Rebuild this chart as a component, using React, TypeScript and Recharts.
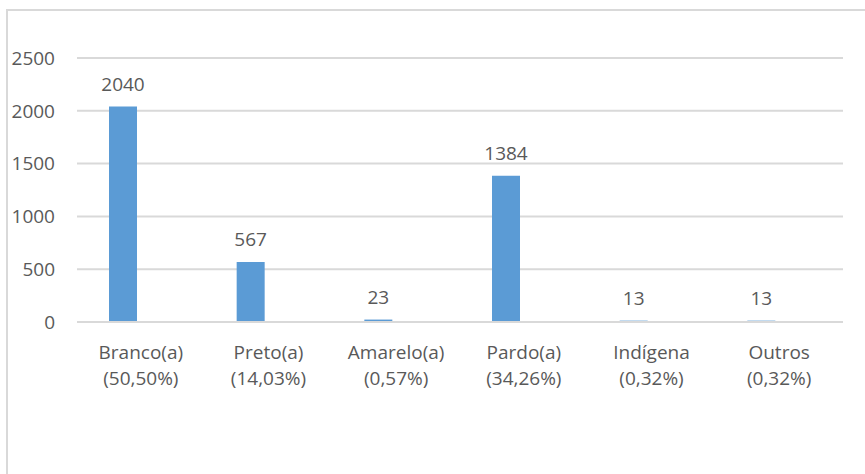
import React from 'react';
import { BarChart, Bar, XAxis, YAxis, CartesianGrid, LabelList } from 'recharts';

const categories = ['Branco(a)', 'Preto(a)', 'Amarelo(a)', 'Pardo(a)', 'Indígena', 'Outros'];
const percentLabels = ['(50,50%)', '(14,03%)', '(0,57%)', '(34,26%)', '(0,32%)', '(0,32%)'];
const counts = [2040, 567, 23, 1384, 13, 13];
const yTicks = [0, 500, 1000, 1500, 2000, 2500];

const data = categories.map((name, i) => ({ name, pct: percentLabels[i], value: counts[i] }));

const FONT = '"Open Sans", "Noto Sans", sans-serif';
const TEXT = '#595959';
const GRID = '#d9d9d9';
const FS = 19;

const CategoryTick = (props: any) => {
  const { x, y, payload, index } = props;
  return (
    <text x={x} y={y} textAnchor="middle" fill={TEXT} fontFamily={FONT} fontSize={FS}>
      <tspan x={x} dy={35}>{payload.value}</tspan>
      <tspan x={x} dy={26}>{percentLabels[index]}</tspan>
    </text>
  );
};

export default function App() {
  return (
    <div style={{ position: 'absolute', left: 0, top: 0, width: 865, height: 474, background: '#fff', overflow: 'hidden' }}>
      <div
        style={{
          position: 'absolute',
          left: 6,
          top: 9,
          width: 900,
          height: 500,
          borderLeft: `2px solid ${GRID}`,
          borderTop: `2px solid ${GRID}`,
        }}
      />
      <div style={{ position: 'absolute', left: 0, top: 0 }}>
        <BarChart
          width={865}
          height={474}
          data={data}
          margin={{ top: 58, right: 22, bottom: 0, left: 0 }}
          barGap={8}
        >
          <CartesianGrid vertical={false} stroke={GRID} strokeWidth={2} />
          <XAxis
            dataKey="name"
            height={152}
            axisLine={{ stroke: GRID, strokeWidth: 2 }}
            tickLine={false}
            tickSize={0}
            tick={<CategoryTick />}
            interval={0}
          />
          <YAxis
            width={77}
            domain={[0, 2500]}
            ticks={yTicks}
            axisLine={false}
            tickLine={false}
            tickSize={0}
            tickMargin={22}
            tick={{ fill: TEXT, fontFamily: FONT, fontSize: FS }}
          />
          <Bar dataKey="value" fill="#5B9BD5" barSize={28} isAnimationActive={false}>
            <LabelList dataKey="value" position="top" offset={16} fill={TEXT} fontFamily={FONT} fontSize={FS} />
          </Bar>
          <Bar dataKey="hidden" fill="#ED7D31" barSize={28} isAnimationActive={false} />
        </BarChart>
      </div>
    </div>
  );
}
